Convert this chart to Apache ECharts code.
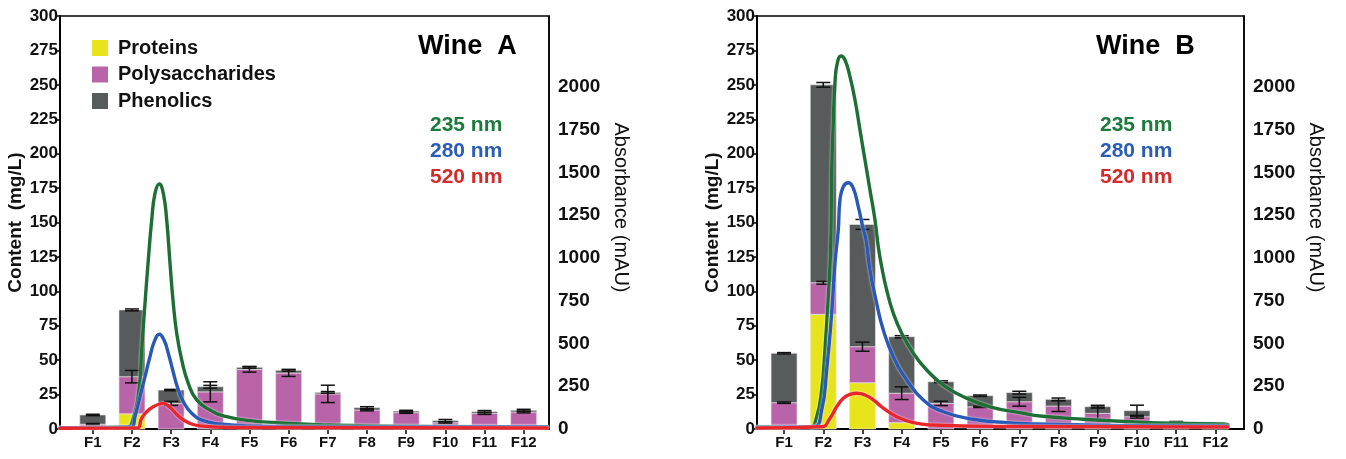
<!DOCTYPE html>
<html><head><meta charset="utf-8">
<script src="https://cdn.jsdelivr.net/npm/echarts@6/dist/echarts.min.js"></script>
<style>html,body{margin:0;padding:0;background:#fff}#c{width:1346px;height:459px}</style>
</head><body><div id="c"></div>
<script>
const categories = ['F1','F2','F3','F4','F5','F6','F7','F8','F9','F10','F11','F12'];
const contentTicks = [0,25,50,75,100,125,150,175,200,225,250,275,300];
const absorbanceTicks = [0,250,500,750,1000,1250,1500,1750,2000];

// Wine A (mg/L)
const proteinsA = [0, 11, 0, 0, 0, 0, 0, 0, 0, 0, 0, 0];
const polysA    = [3.5, 27, 18.6, 27, 43.3, 40.7, 25.5, 13.8, 11.9, 4.6, 11.4, 12.3];
const phenolsA  = [6.7, 48.5, 9.7, 3.7, 1.5, 1.9, 1.1, 1.7, 1.1, 1.5, 1.2, 1.3];
const errPolyA  = [0.5, 4.5, 1.5, 7.3, 2, 2.5, 6.3, 0.6, 0.5, 0.5, 0.8, 0.6];
const errTotalA = [0.5, 0.7, 0.5, 1, 0.6, 0.6, 0.6, 0.7, 0.6, 0.8, 0.8, 0.7];

// Wine B (mg/L)
const proteinsB = [0, 83.3, 33.6, 4.6, 0, 0, 0, 0, 0, 0, 0, 0];
const polysB    = [19.1, 22.9, 26.2, 21.4, 18.6, 16.1, 19.8, 16.7, 11.4, 8.9, 3, 1];
const phenolsB  = [35.9, 143.8, 88.8, 41.0, 15.7, 8.1, 6.6, 4.8, 4.8, 4.4, 2, 1];
const errPolyB  = [0.5, 1, 3.3, 4.6, 1.6, 0.5, 3.2, 4, 4.5, 1, 0, 0];
const errTotalB = [0.5, 1.7, 3.6, 0.8, 0.7, 0.5, 1, 1, 1, 4, 0.5, 0];

// Absorbance chromatograms (fraction position, mAU)
const a235A = [[0.163,6],[1.865,12],[2.034,63],[2.187,247],[2.248,462],[2.333,735],[2.417,988],[2.504,1222],[2.588,1378],[2.698,1433],[2.8,1378],[2.887,1222],[2.971,969],[3.055,735],[3.142,560],[3.27,404],[3.438,267],[3.653,170],[3.992,111],[4.418,72],[5.013,49],[5.695,37],[6.29,29],[7.06,23],[8.08,18],[9.61,15],[12.6,12]];
const a280A = [[0.163,8],[1.993,12],[2.077,72],[2.205,189],[2.333,306],[2.46,423],[2.57,511],[2.698,554],[2.818,520],[2.927,443],[3.04,345],[3.157,247],[3.31,160],[3.525,92],[3.821,49],[4.247,29],[5.013,18],[6.29,13],[12.6,12]];
const a520A = [[0.163,4],[2.121,6],[2.248,63],[2.376,101],[2.545,130],[2.698,146],[2.8,150],[2.927,135],[3.055,107],[3.226,68],[3.438,37],[3.737,18],[4.5,9],[12.6,6]];

const a235B = [[0.31,12],[1.66,13],[1.832,72],[1.959,228],[2.043,462],[2.128,774],[2.189,1066],[2.214,1495],[2.255,1788],[2.298,2022],[2.357,2139],[2.452,2181],[2.554,2158],[2.681,2060],[2.809,1924],[2.936,1749],[3.064,1573],[3.191,1398],[3.319,1222],[3.403,1066],[3.49,949],[3.617,813],[3.786,677],[4.0,560],[4.296,443],[4.638,345],[5.061,257],[5.571,189],[6.253,130],[7.102,92],[7.528,76],[8.625,57],[10.334,37],[12.196,29],[12.32,26]];
const a280B = [[0.31,9],[1.745,13],[1.959,111],[2.087,345],[2.214,677],[2.298,969],[2.383,1164],[2.426,1339],[2.51,1417],[2.638,1440],[2.765,1408],[2.893,1300],[3.005,1183],[3.089,1105],[3.191,930],[3.362,735],[3.531,579],[3.786,423],[4.128,287],[4.551,170],[5.061,101],[5.827,57],[6.679,37],[7.528,29],[9.82,20],[12.32,18]];
const a520B = [[0.31,6],[1.959,13],[2.171,63],[2.342,130],[2.51,180],[2.681,203],[2.852,209],[3.064,199],[3.276,170],[3.531,122],[3.872,72],[4.296,37],[4.806,23],[6.51,15],[12.32,12]];

const FONT = '"Liberation Sans", Arial, sans-serif';
const COL = {prot:'#e8e41c', poly:'#b964a9', phen:'#585b5b', g:'#1d6f36', b:'#2a58b6', r:'#e8262b'};
const positions = categories.map((c,i)=>i+1);

function sum(){ const arrs=[...arguments]; return arrs[0].map((_,i)=>arrs.reduce((s,a)=>s+a[i],0)); }
function zeros(){ return categories.map(()=>0); }
function stackData(base, vals){ return vals.map((v,i)=>[positions[i], base[i], v]); }
function errData(base, err){ return base.map((v,i)=>[positions[i], v, err[i]]).filter(d=>d[2]>0); }

function barRender(params, api){
  const x=api.value(0), b=api.value(1), v=api.value(2);
  if(!v) return null;
  const p0=api.coord([x,b]), p1=api.coord([x,b+v]);
  return {type:'rect', shape:{x:p0[0]-13, y:p1[1], width:26, height:p0[1]-p1[1]},
    style:{fill:api.visual('color'), stroke:'rgba(232,232,232,0.9)', lineWidth:0.7}};
}
function errRender(params, api){
  const x=api.value(0), y=api.value(1), e=api.value(2);
  const t=api.coord([x,y+e]), b=api.coord([x,y-e]);
  const hw=7, st={stroke:'#111', lineWidth:1.5};
  return {type:'group', children:[
    {type:'line', shape:{x1:t[0],y1:t[1],x2:b[0],y2:b[1]}, style:st},
    {type:'line', shape:{x1:t[0]-hw,y1:t[1],x2:t[0]+hw,y2:t[1]}, style:st},
    {type:'line', shape:{x1:b[0]-hw,y1:b[1],x2:b[0]+hw,y2:b[1]}, style:st}
  ]};
}

function xAxisDef(gi, min, max){
  return {type:'value', gridIndex:gi, min:min, max:max,
    axisLine:{show:true, onZero:false, lineStyle:{color:'#000', width:2}},
    axisTick:{show:true, length:5, customValues:positions, lineStyle:{color:'#000', width:1.5}},
    axisLabel:{customValues:positions, formatter:v=>categories[Math.round(v)-1], color:'#111', fontFamily:FONT, fontWeight:'bold', fontSize:15, margin:6},
    splitLine:{show:false}};
}
function yLeft(gi){
  return {type:'value', gridIndex:gi, position:'left', min:0, max:300, interval:25,
    name:'Content  (mg/L)', nameLocation:'middle', nameGap:32, nameRotate:90,
    nameTextStyle:{fontFamily:FONT, fontWeight:'bold', fontSize:19, color:'#111'},
    axisLine:{show:true, lineStyle:{color:'#000', width:2}},
    axisTick:{show:true, length:5, lineStyle:{color:'#000', width:1.5}},
    axisLabel:{customValues:contentTicks, color:'#111', fontFamily:FONT, fontWeight:'bold', fontSize:17, margin:2},
    splitLine:{show:false}};
}
function yRight(gi){
  return {type:'value', gridIndex:gi, position:'right', min:0, max:2415, interval:250,
    name:'Absorbance (mAU)', nameLocation:'middle', nameGap:62, nameRotate:-90,
    nameTextStyle:{fontFamily:FONT, fontSize:20, color:'#111', padding:[0,30,0,0]},
    axisLine:{show:true, lineStyle:{color:'#000', width:1.5}},
    axisTick:{show:false},
    axisLabel:{customValues:absorbanceTicks, formatter:v=>String(v), color:'#111', fontFamily:FONT, fontWeight:'bold', fontSize:19, margin:9},
    splitLine:{show:false}};
}
function barSeries(gi, name, base, vals, color){
  return {type:'custom', name:name, xAxisIndex:gi, yAxisIndex:gi*2, renderItem:barRender, encode:{x:0,y:1},
    data:stackData(base, vals), itemStyle:{color:color}, z:2, silent:true};
}
function errSeries(gi, base, err){
  return {type:'custom', xAxisIndex:gi, yAxisIndex:gi*2, renderItem:errRender, encode:{x:0,y:1}, data:errData(base, err), z:3, silent:true};
}
function lineSeries(gi, name, data, color){
  return {type:'line', name:name, xAxisIndex:gi, yAxisIndex:gi*2+1, data:data, showSymbol:false, smooth:0.5,
    lineStyle:{color:color, width:3.4, cap:'round', join:'round', shadowColor:'rgba(255,255,255,0.9)', shadowBlur:2}, z:5, silent:true};
}
function txt(left, top, text, size, color, weight){
  return {type:'text', left:left, top:top, style:{text:text, font:(weight||'bold')+' '+size+'px '+FONT, fill:color}};
}

const option = {
  animation:false,
  backgroundColor:'#fff',
  grid:[
    {left:60, right:797, top:16, bottom:30, show:true, borderColor:'#000', borderWidth:1.5, backgroundColor:'transparent'},
    {left:757, right:102, top:16, bottom:30, show:true, borderColor:'#000', borderWidth:1.5, backgroundColor:'transparent'}
  ],
  legend:{data:['Proteins','Polysaccharides','Phenolics'], orient:'vertical', left:87, top:33, icon:'rect',
    itemWidth:16, itemHeight:16, itemGap:6.5, selectedMode:false,
    textStyle:{fontFamily:FONT, fontWeight:'bold', fontSize:20, color:'#111', lineHeight:20, padding:[0,0,0,5]}},
  xAxis:[xAxisDef(0, 0.163, 12.646), xAxisDef(1, 0.31, 12.73)],
  yAxis:[yLeft(0), yRight(0), yLeft(1), yRight(1)],
  graphic:[
    txt(418, 33, 'Wine  A', 27, '#000'),
    txt(430, 115, '235 nm', 21, '#1b7a3c'),
    txt(430, 141, '280 nm', 21, '#2a5db5'),
    txt(430, 167, '520 nm', 21, '#d32a2a'),
    txt(1096, 33, 'Wine  B', 27, '#000'),
    txt(1100, 115, '235 nm', 21, '#1b7a3c'),
    txt(1100, 141, '280 nm', 21, '#2a5db5'),
    txt(1100, 167, '520 nm', 21, '#d32a2a')
  ],
  series:[
    barSeries(0,'Proteins',zeros(),proteinsA,COL.prot),
    barSeries(0,'Polysaccharides',proteinsA,polysA,COL.poly),
    barSeries(0,'Phenolics',sum(proteinsA,polysA),phenolsA,COL.phen),
    errSeries(0, sum(proteinsA,polysA), errPolyA),
    errSeries(0, sum(proteinsA,polysA,phenolsA), errTotalA),
    lineSeries(0,'235 nm',a235A,COL.g),
    lineSeries(0,'280 nm',a280A,COL.b),
    lineSeries(0,'520 nm',a520A,COL.r),
    barSeries(1,'Proteins',zeros(),proteinsB,COL.prot),
    barSeries(1,'Polysaccharides',proteinsB,polysB,COL.poly),
    barSeries(1,'Phenolics',sum(proteinsB,polysB),phenolsB,COL.phen),
    errSeries(1, sum(proteinsB,polysB), errPolyB),
    errSeries(1, sum(proteinsB,polysB,phenolsB), errTotalB),
    lineSeries(1,'235 nm',a235B,COL.g),
    lineSeries(1,'280 nm',a280B,COL.b),
    lineSeries(1,'520 nm',a520B,COL.r)
  ]
};
const chart = echarts.init(document.getElementById('c'), null, {renderer:'canvas'});
chart.setOption(option);
</script></body></html>
